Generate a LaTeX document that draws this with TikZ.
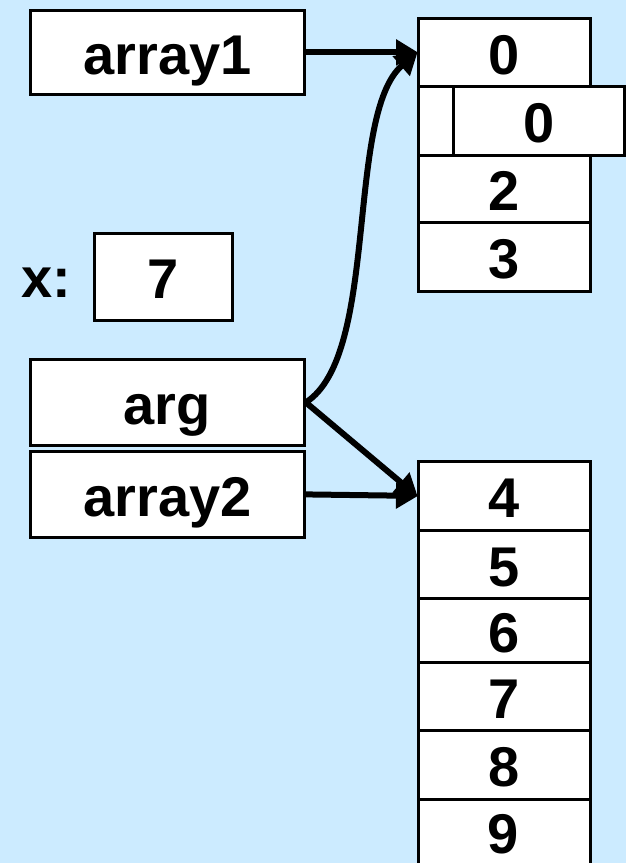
\documentclass[tikz,border=0pt]{standalone}
\usepackage{fontspec}
\setmainfont{Liberation Sans}
\usetikzlibrary{arrows.meta}
\definecolor{bgblue}{RGB}{204,235,255}
\tikzset{
  cell/.style={draw=black, line width=2.8pt, fill=white, inner sep=0pt, anchor=north west,
    font=\fontsize{56}{60}\bfseries\selectfont, text height=44pt, text depth=0pt},
  lbl/.style={inner sep=0pt, anchor=base, font=\fontsize{56}{60}\bfseries\selectfont},
  ptr/.style={line width=6pt, -{Triangle[length=22pt,width=25pt]}, shorten >=-1pt},
}
\newcommand{\cellbox}[6]{% name, x1, y1, x2, y2, text
  \node[cell, minimum width={#4-#2}, minimum height={#5-#3}] (#1) at (#2,#3) {#6};}
\begin{document}
\begin{tikzpicture}[x=1pt,y=-1pt]
\fill[bgblue] (0,0) rectangle (626,863);
\useasboundingbox (0,0) rectangle (626,863);
\clip (0,0) rectangle (626,863);
% variables
\cellbox{a1}{29}{9}{303}{93}{array1}
\cellbox{xb}{93}{232}{231}{319}{7}
\node[lbl] (xl) at (46,297) {x:};
\cellbox{arg}{29}{358}{303}{444}{arg}
\cellbox{a2}{29}{450}{303}{536}{array2}
% first array
\cellbox{r0}{417}{17}{589}{85}{0}
\cellbox{r1a}{417}{85}{452}{154}{}
\cellbox{r1}{452}{85}{623}{154}{0}
\cellbox{r2}{417}{154}{589}{221}{2}
\cellbox{r3}{417}{221}{589}{290}{3}
% second array
\cellbox{s0}{417}{460}{589}{529}{4}
\cellbox{s1}{417}{529}{589}{597}{5}
\cellbox{s2}{417}{597}{589}{661}{6}
\cellbox{s3}{417}{661}{589}{729}{7}
\cellbox{s4}{417}{729}{589}{798}{8}
\cellbox{s5}{417}{798}{589}{868}{}
\node[lbl] (s5t) at (503,853) {9};
% pointers
\draw[ptr] (a1.east) -- (r0.west);
\draw[ptr] (arg.east) .. controls (380,355) and (345,115) .. (r0.west);
\draw[ptr] (arg.east) -- (s0.west);
\draw[ptr] (a2.east) -- (s0.west);
\end{tikzpicture}
\end{document}
